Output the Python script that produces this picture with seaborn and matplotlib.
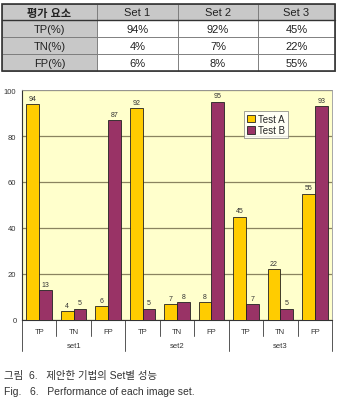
import pandas as pd
import matplotlib
matplotlib.use("Agg")
import matplotlib.pyplot as plt
import seaborn as sns

# table data
table_header = ["평가 요소", "Set 1", "Set 2", "Set 3"]
table_rows = ["TP(%)", "TN(%)", "FP(%)"]
table_values = [["94%", "92%", "45%"], ["4%", "7%", "22%"], ["6%", "8%", "55%"]]

# chart data
sets = ["set1", "set2", "set3"]
measures = ["TP", "TN", "FP"]
test_a = [94, 4, 6, 92, 7, 8, 45, 22, 55]
test_b = [13, 5, 87, 5, 8, 95, 7, 5, 93]

caption_ko = "그림  6.   제안한 기법의 Set별 성능"
caption_en = "Fig.   6.   Performance of each image set."

sns.set_theme(style="white")
plt.rcParams["font.family"] = ["Liberation Sans", "Noto Sans CJK KR", "DejaVu Sans"]

cats = [f"{s}-{m}" for s in sets for m in measures]
df = pd.DataFrame(
    {
        "cat": cats * 2,
        "value": test_a + test_b,
        "test": ["Test A"] * len(cats) + ["Test B"] * len(cats),
    }
)

W, H = 337, 406
fig = plt.figure(figsize=(W / 100, H / 100), dpi=100)

# ---- table at the top ----
tax = fig.add_axes([0, 0, 1, 1])
tax.set_xlim(0, W)
tax.set_ylim(H, 0)
tax.axis("off")
col_edges = [2, 97, 178, 258, 335]
row_edges = [5, 21, 38, 55, 72]
gray = "#c8c8c8"
for r in range(4):
    for c in range(4):
        x0, x1 = col_edges[c], col_edges[c + 1]
        y0, y1 = row_edges[r], row_edges[r + 1]
        fc = gray if (r == 0 or c == 0) else "white"
        tax.add_patch(plt.Rectangle((x0, y0), x1 - x0, y1 - y0, fc=fc,
                                    ec="#777777", lw=0.6))
        if r == 0:
            txt = table_header[c]
        elif c == 0:
            txt = table_rows[r - 1]
        else:
            txt = table_values[r - 1][c - 1]
        tax.text((x0 + x1) / 2, (y0 + y1) / 2 + 0.5, txt, ha="center",
                 va="center", fontsize=8, color="#222222",
                 fontweight="bold" if (r == 0 and c == 0) else "normal")
tax.add_patch(plt.Rectangle((col_edges[0], row_edges[0]),
                            col_edges[-1] - col_edges[0],
                            row_edges[-1] - row_edges[0],
                            fill=False, ec="#333333", lw=1.2))
tax.plot([col_edges[0], col_edges[-1]], [row_edges[1], row_edges[1]],
         color="#333333", lw=1.0)

# ---- bar chart ----
left, right, top, bottom = 22, 332, 91, 321
ax = fig.add_axes([left / W, 1 - bottom / H, (right - left) / W, (bottom - top) / H])
sns.barplot(
    data=df, x="cat", y="value", hue="test", order=cats,
    palette={"Test A": "#ffcc00", "Test B": "#993366"}, saturation=1,
    width=0.74, edgecolor="#222222", linewidth=0.6, ax=ax, zorder=3,
)
ax.set_facecolor("#ffffcc")
ax.set_xlim(-0.5, len(cats) - 0.5)
ax.set_ylim(0, 100)
ax.set_yticks(range(0, 101, 20))
ax.tick_params(axis="y", labelsize=5.5, colors="#333333", length=2, width=0.6, pad=2)
ax.set_xticks([])
ax.set_xlabel("")
ax.set_ylabel("")
ax.yaxis.grid(True, color="#8a8460", lw=0.9, zorder=0)
ax.set_axisbelow(True)
for side in ["top", "right"]:
    ax.spines[side].set_color("#999999")
    ax.spines[side].set_linewidth(0.6)
ax.spines["left"].set_color("#333333")
ax.spines["bottom"].set_color("#333333")
ax.spines["left"].set_linewidth(0.8)
ax.spines["bottom"].set_linewidth(0.8)

for cont in ax.containers:
    ax.bar_label(cont, fontsize=5, color="#333333", padding=1.5)

leg = ax.legend(
    loc="upper left", bbox_to_anchor=((244 - left) / (right - left), (bottom - 112) / (bottom - top)),
    fontsize=7, frameon=True, fancybox=False, edgecolor="#777777",
    handlelength=0.8, handleheight=0.8, handletextpad=0.3,
    borderpad=0.3, labelspacing=0.15, borderaxespad=0,
)
leg.get_frame().set_linewidth(0.6)

# category / group labels under the axis
trans = ax.get_xaxis_transform()
pix = 1 / (bottom - top)
for i, c in enumerate(cats):
    m = c.split("-")[1]
    ax.text(i, -(333 - bottom) * pix, m, transform=trans, ha="center",
            va="center", fontsize=5.5, color="#333333", clip_on=False)
for g, s in enumerate(sets):
    ax.text(g * 3 + 1, -(347 - bottom) * pix, s, transform=trans, ha="center",
            va="center", fontsize=5.5, color="#333333", clip_on=False)
for k in range(len(cats) + 1):
    xb = k - 0.5
    depth = 352 if k % 3 == 0 else 337
    ax.plot([xb, xb], [0, -(depth - bottom) * pix], transform=trans,
            color="#555555", lw=0.7, clip_on=False)

# caption
fig.text(4 / W, 1 - 376 / H, caption_ko, fontsize=7.5, color="#333333", va="center")
fig.text(4 / W, 1 - 392 / H, caption_en, fontsize=7.5, color="#333333", va="center")

fig.savefig("out.png", dpi=100)
